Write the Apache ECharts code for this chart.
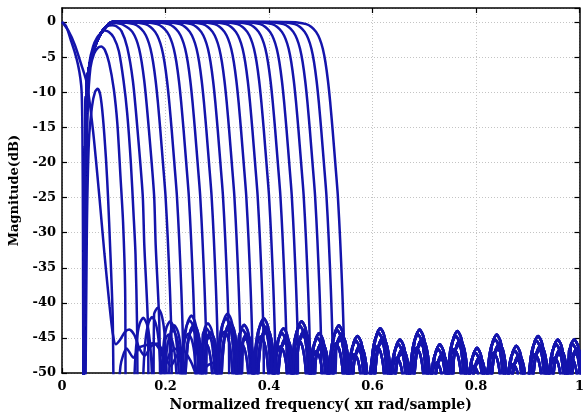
<!DOCTYPE html>
<html>
<head>
<meta charset="utf-8">
<script src="https://cdn.jsdelivr.net/npm/echarts@6/dist/echarts.min.js"></script>
<style>
  html, body { margin: 0; padding: 0; background: #fff; }
  #chart { width: 587px; height: 417px; }
</style>
</head>
<body>
<div id="chart"></div>
<script>
// axis ticks
const xTicks = [0, 0.2, 0.4, 0.6, 0.8, 1];
const yTicks = [0, -5, -10, -15, -20, -25, -30, -35, -40, -45, -50];

// shared lower (rising) edge of the wide band filters
const riseFreq = [0.041, 0.0435, 0.046, 0.048, 0.055, 0.063, 0.072, 0.082, 0.09, 0.097];
const riseDb = [-62, -25, -13, -8.7, -5.5, -3.6, -2, -0.9, -0.3, 0];

const edgeOffset = [-0.113, -0.092, -0.075, -0.065, -0.056, -0.049, -0.043, -0.038, -0.033,
  -0.0285, -0.024, -0.019, -0.014, -0.0095, -0.0055, -0.0025, 0];
const edgeDb = [0, -0.05, -0.3, -0.7, -1.4, -2.4, -3.8, -5.7, -8.4,
  -11.6, -15.4, -20, -24.7, -31, -38, -45, -62];

// null frequency of each flat-topped filter
const bandNulls = [0.214, 0.236, 0.259, 0.281, 0.303, 0.325, 0.347, 0.370, 0.392,
  0.414, 0.436, 0.458, 0.481, 0.503, 0.525, 0.547];

// low pass filters
const lowpassSteep = [[0, 0], [0.008, -0.6], [0.018, -2.8], [0.025, -4.4], [0.031, -6.1],
  [0.0355, -8], [0.038, -10], [0.0395, -16], [0.0405, -30], [0.0415, -62]];
const lowpassSlow = [[0, 0], [0.012, -1.2], [0.025, -3.3], [0.037, -6], [0.048, -8.7],
  [0.06, -15.5], [0.072, -24.7], [0.082, -33], [0.092, -40.5], [0.098, -44.3], [0.104, -45.9],
  [0.112, -45.3], [0.121, -44.2], [0.13, -43.8], [0.14, -44.6], [0.149, -46.4], [0.16, -47.5],
  [0.172, -46.2], [0.185, -45.8], [0.198, -47.5], [0.21, -49], [0.222, -47.5], [0.235, -46.8],
  [0.25, -48.5], [0.265, -51], [0.28, -49], [0.295, -48.5], [0.31, -51], [0.33, -55], [0.4, -60], [1, -65]];

// narrow filters (do not reach 0 dB)
const narrow1 = [[0.0445, -62], [0.048, -30], [0.052, -17], [0.058, -12], [0.064, -9.9], [0.069, -9.5],
  [0.074, -10.4], [0.079, -13.5], [0.085, -19.5], [0.089, -25], [0.093, -32], [0.098, -42], [0.102, -62],
  [0.113, -49], [0.125, -46.5], [0.138, -47.8], [0.149, -46.4], [0.163, -46], [0.177, -45.7],
  [0.19, -46.8], [0.2, -48.5], [0.21, -47], [0.222, -46.5], [0.235, -49], [0.245, -53]];
const narrow2 = [[0.0435, -62], [0.0465, -25], [0.05, -12], [0.055, -6.5], [0.062, -4.5], [0.069, -3.7],
  [0.076, -3.5], [0.083, -4], [0.091, -5.8], [0.1, -9.5], [0.107, -14.5], [0.113, -22], [0.118, -28.5],
  [0.122, -38], [0.125, -62]];
const narrow3 = [[0.0425, -62], [0.045, -25], [0.048, -11], [0.053, -5.8], [0.06, -3.5], [0.068, -2.2],
  [0.076, -1.5], [0.082, -1.2], [0.09, -1.4], [0.1, -2.2], [0.11, -4.2], [0.119, -8.4], [0.126, -13],
  [0.133, -20], [0.138, -27], [0.142, -33], [0.145, -43], [0.148, -62]];
const narrow4 = [[0.041, -62], [0.0435, -25], [0.046, -13], [0.048, -8.7], [0.055, -5.5], [0.063, -3.6],
  [0.072, -2], [0.082, -0.9], [0.09, -0.5], [0.097, -0.45], [0.105, -0.6], [0.115, -1.3], [0.126, -3.6],
  [0.137, -8.4], [0.146, -15.4], [0.156, -24.7], [0.159, -31.7], [0.166, -42.9], [0.17, -62]];
const narrow5 = [[0.041, -62], [0.0435, -25], [0.046, -13], [0.048, -8.7], [0.055, -5.5], [0.063, -3.6],
  [0.072, -2], [0.082, -0.9], [0.09, -0.3], [0.097, -0.1], [0.105, -0.15], [0.117, -0.35], [0.136, -1.4],
  [0.149, -3.8], [0.159, -8.4], [0.168, -15.4], [0.178, -24.7], [0.181, -31.7], [0.188, -42.9], [0.192, -62]];
const narrowNulls = [0.125, 0.148, 0.17, 0.192];

// stopband side lobes: peak frequency and level, five slightly different families
const lobesA = [[0.152, -40.8], [0.18, -39.4], [0.212, -41.9], [0.25, -41.8], [0.282, -42.9], [0.32, -41.5],
  [0.352, -43.1], [0.39, -42.2], [0.428, -43.6], [0.463, -42.6], [0.497, -44.3], [0.535, -43.2],
  [0.571, -44.7], [0.615, -43.6], [0.653, -45.2], [0.691, -43.8], [0.73, -45.9], [0.764, -44.0],
  [0.802, -46.4], [0.84, -44.5], [0.878, -46.1], [0.92, -44.7], [0.958, -45.2], [0.99, -45.2]];
const lobesB = [[0.157, -42.1], [0.185, -40.7], [0.217, -43.2], [0.255, -43.1], [0.287, -44.2], [0.325, -42.8],
  [0.357, -44.4], [0.395, -43.5], [0.433, -44.9], [0.468, -43.9], [0.502, -45.6], [0.54, -44.5],
  [0.576, -46], [0.62, -44.9], [0.658, -46.5], [0.696, -45.1], [0.735, -47.2], [0.769, -45.3],
  [0.807, -47.7], [0.845, -45.8], [0.883, -47.4], [0.925, -46], [0.963, -46.5], [0.995, -46.5]];
const lobesC = [[0.146, -43.4], [0.174, -42], [0.206, -44.5], [0.244, -44.4], [0.276, -45.5], [0.314, -44.1],
  [0.346, -45.7], [0.384, -44.8], [0.422, -46.2], [0.457, -45.2], [0.491, -46.9], [0.529, -45.8],
  [0.565, -47.3], [0.609, -46.2], [0.647, -47.8], [0.685, -46.4], [0.724, -48.5], [0.758, -46.6],
  [0.796, -49], [0.834, -47.1], [0.872, -48.7], [0.914, -47.3], [0.952, -47.8], [0.984, -47.8]];
const lobesD = [[0.149, -41.6], [0.177, -40.2], [0.209, -42.6], [0.247, -42.5], [0.279, -43.6], [0.317, -42.2],
  [0.349, -43.8], [0.387, -42.9], [0.425, -44.3], [0.46, -43.3], [0.494, -45], [0.532, -43.9],
  [0.568, -45.4], [0.612, -44.3], [0.65, -45.9], [0.688, -44.5], [0.727, -46.6], [0.761, -44.7],
  [0.799, -47.1], [0.837, -45.2], [0.875, -46.8], [0.917, -45.4], [0.955, -45.9], [0.987, -45.9]];
const lobesE = [[0.1545, -42.8], [0.1825, -41.4], [0.2145, -43.9], [0.2525, -43.8], [0.2845, -44.9], [0.3225, -43.5],
  [0.3545, -45.1], [0.3925, -44.2], [0.4305, -45.6], [0.4655, -44.6], [0.4995, -46.3], [0.5375, -45.2],
  [0.5735, -46.7], [0.6175, -45.6], [0.6555, -47.2], [0.6935, -45.8], [0.7325, -47.9], [0.7665, -46],
  [0.8045, -48.4], [0.8425, -46.5], [0.8805, -48.1], [0.9225, -46.7], [0.9605, -47.2], [0.9925, -47.2]];

// shape of one side lobe around its peak (offset, drop in dB)
const lobeOffset = [-0.0195, -0.0165, -0.0125, -0.007, 0, 0.007, 0.0125, 0.0165, 0.0195];
const lobeDrop = [-16, -7.5, -3.2, -0.9, 0, -0.9, -3.2, -7.5, -16];

const LINE = '#1414ac';
const FONT = 'DejaVu Serif';
const lobeSets = [lobesA, lobesB, lobesC, lobesD, lobesE];

// side lobes that lie above a filter's edge null
function stopband(lobes, fNull) {
  const pts = [];
  lobes.filter(l => l[0] > fNull + 0.01).forEach(l => {
    lobeOffset.forEach((o, k) => {
      const f = +(l[0] + o).toFixed(4);
      if (f > fNull && (!pts.length || f > pts[pts.length - 1][0])) pts.push([f, l[1] + lobeDrop[k]]);
    });
  });
  return pts;
}

const curves = [lowpassSteep, lowpassSlow, narrow1];
[narrow2, narrow3, narrow4, narrow5].forEach((c, i) => {
  curves.push(c.concat(stopband(lobeSets[(i + 1) % 5], narrowNulls[i])));
});
bandNulls.forEach((fn, i) => {
  const pts = riseFreq.map((f, k) => [f, riseDb[k]]);
  edgeOffset.forEach((o, k) => pts.push([+(fn + o).toFixed(4), edgeDb[k]]));
  curves.push(pts.concat(stopband(lobeSets[i % 5], fn)));
});

const series = curves.map(data => ({
  type: 'line',
  data: data,
  showSymbol: false,
  smooth: 0.25,
  clip: true,
  silent: true,
  lineStyle: { color: LINE, width: 2.5 }
}));

const labelStyle = { color: '#000', fontFamily: FONT, fontWeight: 'bold', fontSize: 13 };
const gridLine = { show: true, lineStyle: { color: '#c4c4c4', type: [1, 2], width: 1 } };
const frame = { show: true, onZero: false, lineStyle: { color: '#000', width: 1.5 } };
const tick = { show: true, inside: true, length: 5, lineStyle: { color: '#000', width: 1.2 } };

const chart = echarts.init(document.getElementById('chart'));
chart.setOption({
  animation: false,
  backgroundColor: '#fff',
  grid: { left: 62, right: 3, top: 8, bottom: 36 },
  xAxis: [{
    type: 'value', min: xTicks[0], max: xTicks[xTicks.length - 1], interval: 0.2,
    axisLine: frame, axisTick: tick, splitLine: gridLine,
    axisLabel: Object.assign({ margin: 7 }, labelStyle),
    name: 'Normalized frequency( xπ rad/sample)', nameLocation: 'middle', nameGap: 21,
    nameTextStyle: Object.assign({}, labelStyle, { fontSize: 14 })
  }, {
    type: 'value', position: 'top', min: xTicks[0], max: xTicks[xTicks.length - 1], interval: 0.2,
    axisLine: frame, axisTick: tick, splitLine: { show: false }, axisLabel: { show: false }
  }],
  yAxis: [{
    type: 'value', min: yTicks[yTicks.length - 1], max: 2, interval: 5,
    axisLine: frame, axisTick: tick, splitLine: gridLine,
    axisLabel: Object.assign({ margin: 6, showMaxLabel: false }, labelStyle),
    name: 'Magnitude(dB)', nameLocation: 'middle', nameGap: 33, nameRotate: 90,
    nameTextStyle: labelStyle
  }, {
    type: 'value', position: 'right', min: yTicks[yTicks.length - 1], max: 2, interval: 5,
    axisLine: frame, axisTick: tick, splitLine: { show: false }, axisLabel: { show: false }
  }],
  series: series
});
</script>
</body>
</html>
